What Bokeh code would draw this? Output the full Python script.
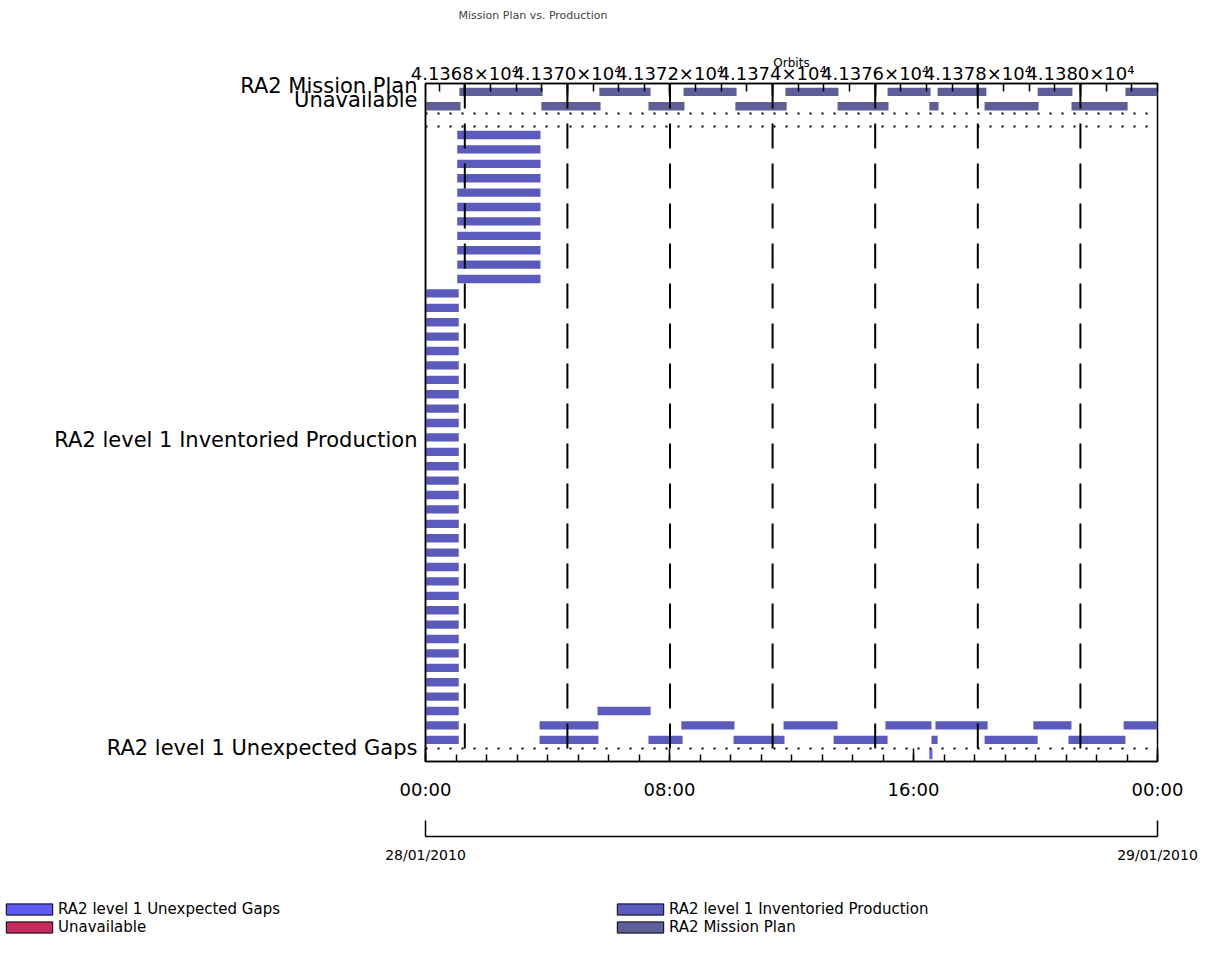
import numpy as np
from bokeh.plotting import figure
from bokeh.layouts import column
from bokeh.models import Range1d, LinearAxis, FixedTicker, Span, Legend, LegendItem, Title
from bokeh.embed import file_html
from bokeh.resources import INLINE

FONT = "DejaVu Sans"

# ---------------- data (hours since 28/01/2010 00:00) ----------------
plan_upper_start = [1.11, 5.70, 8.46, 11.80, 15.15, 16.79, 20.07, 22.95]
plan_upper_end   = [3.84, 7.38, 10.20, 13.54, 16.56, 18.39, 21.21, 24.00]
plan_lower_start = [0.00, 3.80, 7.31, 10.16, 13.51, 16.52, 18.33, 21.18]
plan_lower_end   = [1.15, 5.74, 8.49, 11.84, 15.18, 16.82, 20.10, 23.02]
plan_upper_row = 45
plan_lower_row = 44

inv_col1_rows = list(range(0, 32))
inv_col1_start = 0.00
inv_col1_end = 1.09
inv_col2_rows = list(range(32, 43))
inv_col2_start = 1.04
inv_col2_end = 3.77
inv_row2_start = [5.64]
inv_row2_end   = [7.38]
inv_row1_start = [3.74, 8.39, 11.74, 15.08, 16.72, 19.93, 22.89]
inv_row1_end   = [5.67, 10.13, 13.51, 16.59, 18.43, 21.18, 24.00]
inv_row0_start = [3.74, 7.31, 10.10, 13.38, 16.59, 18.33, 21.08]
inv_row0_end   = [5.67, 8.43, 11.77, 15.15, 16.79, 20.07, 22.95]

gap_row = [-1]
gap_start = [16.52]
gap_end = [16.62]

orbit_ticks = [41368, 41370, 41372, 41374, 41376, 41378, 41380]
orbit_labels = ["4.1368×10⁴", "4.1370×10⁴", "4.1372×10⁴", "4.1374×10⁴",
                "4.1376×10⁴", "4.1378×10⁴", "4.1380×10⁴"]
orbit_range = (41367.234, 41381.503)

time_ticks = [0, 8, 16, 24]
time_labels = ["00:00", "08:00", "16:00", "00:00"]
date_ticks = [0, 24]
date_labels = ["28/01/2010", "29/01/2010"]

cat_pos = [-0.6, 20.8, 44.4, 45.44]
cat_labels = ["RA2 level 1 Unexpected Gaps", "RA2 level 1 Inventoried Production",
              "Unavailable", "RA2 Mission Plan"]
dotted_rows = [43.5, 42.6, -0.6]

legend_labels = ["RA2 level 1 Unexpected Gaps", "Unavailable",
                 "RA2 level 1 Inventoried Production", "RA2 Mission Plan"]

C_GAP = "#5c5cf2"
C_UNAV = "#c42a5a"
C_INV = "#5b5bbd"
C_PLAN = "#5e5e98"

# ---------------- assemble ----------------
inv_rows = inv_col1_rows + inv_col2_rows + [2] * len(inv_row2_start) + [1] * len(inv_row1_start) + [0] * len(inv_row0_start)
inv_left = [inv_col1_start] * len(inv_col1_rows) + [inv_col2_start] * len(inv_col2_rows) + inv_row2_start + inv_row1_start + inv_row0_start
inv_right = [inv_col1_end] * len(inv_col1_rows) + [inv_col2_end] * len(inv_col2_rows) + inv_row2_end + inv_row1_end + inv_row0_end

plan_rows = [plan_upper_row] * len(plan_upper_start) + [plan_lower_row] * len(plan_lower_start)
plan_left = plan_upper_start + plan_lower_start
plan_right = plan_upper_end + plan_lower_end

p = figure(frame_width=732, frame_height=678,
           x_range=Range1d(0, 24), y_range=Range1d(-1.507, 45.58),
           output_backend="svg", toolbar_location=None,
           min_border_left=425, min_border_right=58, min_border_top=0, min_border_bottom=139)
p.xgrid.visible = False
p.ygrid.visible = False
p.outline_line_color = "black"
p.outline_line_width = 1.5
p.background_fill_color = "white"
p.border_fill_color = "white"

xa = p.below[0]
ya = p.left[0]

BAR_H = 0.58
p.hbar(y=plan_rows, left=plan_left, right=plan_right, height=BAR_H, fill_color=C_PLAN, line_color=None)
p.hbar(y=inv_rows, left=inv_left, right=inv_right, height=BAR_H, fill_color=C_INV, line_color=None)
p.hbar(y=gap_row, left=gap_start, right=gap_end, height=0.7, fill_color=C_GAP, line_color=None)

# dotted horizontal lines
for r in dotted_rows:
    p.add_layout(Span(location=r, dimension="width", line_color="black", line_width=2, line_dash="2 10"))

# top orbit axis
p.extra_x_ranges = {"orbits": Range1d(*orbit_range)}
orbit_minor = list(np.arange(41367.5, 41381.6, 0.5))
top = LinearAxis(x_range_name="orbits",
                 ticker=FixedTicker(ticks=orbit_ticks, minor_ticks=orbit_minor),
                 major_label_overrides={t: l for t, l in zip(orbit_ticks, orbit_labels)},
                 axis_label="Orbits")
p.add_layout(top, "above")

for o in orbit_ticks:
    p.add_layout(Span(location=o, dimension="height", x_range_name="orbits",
                      line_color="black", line_width=2, line_dash="25 15"))

# bottom time axis
xa.ticker = FixedTicker(ticks=time_ticks, minor_ticks=list(range(0, 25)))
xa.major_label_overrides = {t: l for t, l in zip(time_ticks, time_labels)}
xa.axis_label = " "
xa.axis_label_text_font_size = "16px"
xa.axis_label_standoff = 12

date_axis = LinearAxis(ticker=FixedTicker(ticks=date_ticks, minor_ticks=[]),
                       major_label_overrides={t: l for t, l in zip(date_ticks, date_labels)})
p.add_layout(date_axis, "below")

ya.ticker = FixedTicker(ticks=cat_pos, minor_ticks=[])
ya.major_label_overrides = {t: l for t, l in zip(cat_pos, cat_labels)}

for ax in [top, xa, date_axis, ya]:
    ax.axis_line_color = "black"
    ax.axis_line_width = 1.5
    ax.major_tick_line_color = "black"
    ax.minor_tick_line_color = "black"
    ax.major_tick_line_width = 1.5
    ax.minor_tick_line_width = 1.5
    ax.major_tick_out = 0
    ax.minor_tick_out = 0
    ax.major_label_text_font = FONT
    ax.major_label_text_color = "black"
    ax.axis_label_text_font = FONT
    ax.axis_label_text_font_style = "normal"
    ax.axis_label_text_color = "black"

top.major_tick_in = 13
top.minor_tick_in = 8
top.major_label_text_font_size = "18px"
top.major_label_standoff = 0
top.axis_label_text_font_size = "12px"
top.axis_label_standoff = -10

xa.major_tick_in = 13
xa.minor_tick_in = 7
xa.major_label_text_font_size = "18px"
xa.major_label_standoff = 17

date_axis.major_tick_in = 16
date_axis.major_label_text_font_size = "14px"
date_axis.major_label_standoff = 10

ya.major_tick_in = 0
ya.major_label_text_font_size = "21px"
ya.major_label_standoff = 8

# title + spacer
p.add_layout(Title(text=" ", text_font_size="1px", standoff=18), "above")
p.title.text = "Mission Plan vs. Production"
p.title.text_font = FONT
p.title.text_font_size = "11px"
p.title.text_font_style = "normal"
p.title.align = "left"
p.title.offset = 33
p.title.standoff = 16
p.title.vertical_align = "top"

# ---------------- legend strip ----------------
aligned_off = True
try:
    p.frame_align = False
except Exception:
    aligned_off = False

if aligned_off:
    lf = figure(width=1215, height=44, x_range=Range1d(0, 1), y_range=Range1d(0, 1),
                output_backend="svg", toolbar_location=None,
                x_axis_location=None, y_axis_location=None,
                min_border_left=0, min_border_right=0, min_border_top=0, min_border_bottom=0)
    lf.frame_align = False
    col_width = 553
else:
    lf = figure(frame_width=732, frame_height=44, x_range=Range1d(0, 1), y_range=Range1d(0, 1),
                output_backend="svg", toolbar_location=None,
                x_axis_location=None, y_axis_location=None,
                min_border_left=425, min_border_right=58, min_border_top=0, min_border_bottom=0)
    col_width = 300
lf.xgrid.visible = False
lf.ygrid.visible = False
lf.outline_line_color = None
lf.border_fill_color = "white"
lf.background_fill_color = "white"

# legend key placeholders (kept outside the visible strip range)
key_y = [-5.0]
key_l = [0.0]
key_r = [1.0]

items = []
for lab, col in zip(legend_labels, [C_GAP, C_UNAV, C_INV, C_PLAN]):
    r = lf.hbar(y=key_y, left=key_l, right=key_r, height=1, fill_color=col,
                line_color="black", line_width=1)
    items.append(LegendItem(label=lab, renderers=[r]))

legend = Legend(items=items, orientation="vertical", nrows=2,
                location="top_left", padding=0, margin=0, spacing=0,
                glyph_width=58, glyph_height=14, label_height=12, label_width=col_width,
                label_standoff=0, label_text_font=FONT, label_text_font_size="15px",
                label_text_color="black",
                border_line_alpha=0, background_fill_alpha=0)
lf.add_layout(legend, "center")

open("out.html", "w").write(file_html(column(p, lf), INLINE))
